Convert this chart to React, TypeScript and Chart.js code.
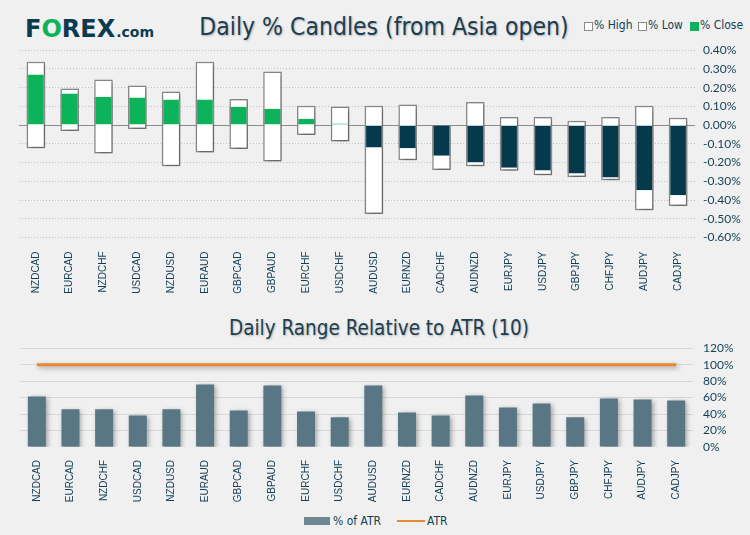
import React, { useEffect, useRef } from "react";
import { Chart, registerables } from "chart.js";
Chart.register(...registerables);

const pairs = ["NZDCAD", "EURCAD", "NZDCHF", "USDCAD", "NZDUSD", "EURAUD", "GBPCAD", "GBPAUD", "EURCHF", "USDCHF", "AUDUSD", "EURNZD", "CADCHF", "AUDNZD", "EURJPY", "USDJPY", "GBPJPY", "CHFJPY", "AUDJPY", "CADJPY"];
const highs = [0.338, 0.196, 0.244, 0.212, 0.18, 0.338, 0.14, 0.286, 0.103, 0.1, 0.103, 0.11, 0.0, 0.124, 0.044, 0.044, 0.023, 0.044, 0.103, 0.039];
const lows = [-0.124, -0.032, -0.151, -0.021, -0.22, -0.146, -0.128, -0.194, -0.053, -0.087, -0.475, -0.187, -0.24, -0.219, -0.244, -0.268, -0.277, -0.295, -0.455, -0.432];
const closes = [0.27, 0.169, 0.151, 0.148, 0.137, 0.137, 0.098, 0.087, 0.034, 0.009, -0.119, -0.124, -0.164, -0.199, -0.228, -0.242, -0.258, -0.279, -0.348, -0.375];
const pctOfAtr = [61.4, 45.7, 45.7, 38.4, 45.7, 76, 44.4, 74.7, 43.2, 36, 74.7, 42, 38.4, 62.6, 48.1, 52.9, 36, 59, 57.8, 56.6];
const atrLine = [100, 100, 100, 100, 100, 100, 100, 100, 100, 100, 100, 100, 100, 100, 100, 100, 100, 100, 100, 100];

const NAVY = "#123f55";
const GREEN = "#0db35a";
const DARK = "#053a4d";
const SLATE = "#587684";
const ORANGE = "#e8872b";
const BG = "#f0f0f0";

const shadowPlugin = (indices: number[]) => ({
  id: "shadowPlugin",
  beforeDatasetDraw(chart: any, args: any) {
    if (indices.includes(args.index)) {
      const c = chart.ctx;
      c.save();
      c.shadowColor = "rgba(0,0,0,0.35)";
      c.shadowBlur = 5;
      c.shadowOffsetX = 2;
      c.shadowOffsetY = 2;
    }
  },
  afterDatasetDraw(chart: any, args: any) {
    if (indices.includes(args.index)) chart.ctx.restore();
  },
});

const tickFont = { family: "Lato, 'Open Sans', sans-serif", size: 12 };
const catFont = { family: "'Liberation Sans', Arial, sans-serif", size: 10 };

function CandleChart() {
  const ref = useRef<HTMLCanvasElement>(null);
  useEffect(() => {
    const chart = new Chart(ref.current!, {
      type: "bar",
      data: {
        labels: pairs,
        datasets: [
          {
            label: "% Close",
            data: closes.map((c) => [0, c]) as any,
            backgroundColor: closes.map((c) => (c >= 0 ? GREEN : DARK)),
            borderColor: "#8a8a8a",
            borderWidth: { left: 1.5, right: 1.5, top: 0, bottom: 0 } as any,
            borderSkipped: false,
            grouped: false,
            barPercentage: 0.55,
            categoryPercentage: 1,
          } as any,
          {
            label: "% High / % Low",
            data: lows.map((l, i) => [l, highs[i]]) as any,
            backgroundColor: "#ffffff",
            borderColor: "#8a8a8a",
            borderWidth: 1.5,
            borderSkipped: false,
            grouped: false,
            barPercentage: 0.55,
            categoryPercentage: 1,
          } as any,
        ],
      },
      options: {
        animation: false,
        responsive: false,
        maintainAspectRatio: false,
        layout: { padding: { top: 5, left: 19, right: 0, bottom: 0 } },
        plugins: { legend: { display: false }, tooltip: { enabled: false } },
        scales: {
          x: {
            grid: { display: false },
            border: { display: false },
            ticks: { minRotation: 90, maxRotation: 90, autoSkip: false, color: NAVY, font: catFont, padding: 6 },
            afterFit(s: any) { s.height = 62.5; },
          },
          y: {
            position: "right",
            min: -0.6,
            max: 0.4,
            ticks: {
              stepSize: 0.1,
              autoSkip: false,
              padding: 8,
              color: NAVY,
              font: tickFont,
              callback: (v: any) => Number(v).toFixed(2) + "%",
            },
            grid: {
              drawTicks: false,
              lineWidth: 1,
              color: (ctx: any) => (ctx.tick && Math.abs(ctx.tick.value) < 1e-9 ? "#8c8c8c" : "#c2c2c2"),
            },
            border: {
              display: false,
              dash: (ctx: any) => (ctx.tick && Math.abs(ctx.tick.value) < 1e-9 ? [] : [1, 2]),
            } as any,
            afterFit(s: any) { s.width = 55; },
          },
        },
      } as any,
      plugins: [shadowPlugin([1])],
    });
    return () => chart.destroy();
  }, []);
  return <canvas ref={ref} width={750} height={265} style={{ position: "absolute", left: 0, top: 35 }} />;
}

function AtrChart() {
  const ref = useRef<HTMLCanvasElement>(null);
  useEffect(() => {
    const chart = new Chart(ref.current!, {
      type: "bar",
      data: {
        labels: pairs,
        datasets: [
          {
            type: "line",
            label: "ATR",
            data: atrLine,
            borderColor: ORANGE,
            borderWidth: 3,
            pointRadius: 0,
            fill: false,
          } as any,
          {
            label: "% of ATR",
            data: pctOfAtr,
            backgroundColor: SLATE,
            borderWidth: 0,
            barPercentage: 0.535,
            categoryPercentage: 1,
          } as any,
        ],
      },
      options: {
        animation: false,
        responsive: false,
        maintainAspectRatio: false,
        layout: { padding: { top: 3, left: 20, right: 0, bottom: 0 } },
        plugins: { legend: { display: false }, tooltip: { enabled: false } },
        scales: {
          x: {
            grid: { display: false },
            border: { display: false },
            ticks: { minRotation: 90, maxRotation: 90, autoSkip: false, color: NAVY, font: catFont, padding: 5 },
            afterFit(s: any) { s.height = 58; },
          },
          y: {
            position: "right",
            min: 0,
            max: 120,
            ticks: {
              stepSize: 20,
              autoSkip: false,
              padding: 10,
              color: NAVY,
              font: tickFont,
              callback: (v: any) => v + "%",
            },
            grid: {
              drawTicks: false,
              lineWidth: 1,
              color: (ctx: any) => (ctx.tick && ctx.tick.value === 0 ? "rgba(0,0,0,0)" : "#d8d8d8"),
            },
            border: { display: false },
            afterFit(s: any) { s.width = 57; },
          },
        },
      } as any,
      plugins: [shadowPlugin([0, 1])],
    });
    return () => chart.destroy();
  }, []);
  return <canvas ref={ref} width={750} height={174} style={{ position: "absolute", left: 0, top: 331 }} />;
}

const titleStyle: React.CSSProperties = {
  position: "absolute",
  fontFamily: "'DejaVu Sans Condensed', 'DejaVu Sans', sans-serif",
  fontStretch: "condensed",
  color: "#1c3e50",
  textShadow: "1px 1px 2px rgba(0,0,0,0.25)",
  whiteSpace: "nowrap",
};

const legendText: React.CSSProperties = {
  position: "absolute",
  fontFamily: "'DejaVu Sans Condensed', 'Open Sans', sans-serif",
  fontStretch: "condensed",
  fontSize: 12,
  color: NAVY,
  whiteSpace: "nowrap",
  lineHeight: "16px",
};

const sq = (bg: string, border: string, left: number): React.CSSProperties => ({
  position: "absolute",
  left,
  top: 22,
  width: 7,
  height: 7,
  border: "1px solid " + border,
  background: bg,
});

export default function App() {
  return (
    <div style={{ position: "absolute", left: 0, top: 0, width: 750, height: 535, background: BG, overflow: "hidden" }}>
      <div
        style={{
          position: "absolute",
          left: 25,
          top: 14,
          fontFamily: "'DejaVu Sans', sans-serif",
          fontWeight: 700,
          fontSize: 24,
          color: "#0b3b4f",
          whiteSpace: "nowrap",
          lineHeight: "30px",
        }}
      >
        F<span style={{ color: GREEN }}>O</span>REX
        <span style={{ fontSize: 14, marginLeft: 1 }}>.com</span>
      </div>
      <div style={{ ...titleStyle, fontSize: 24.5, lineHeight: "28px", left: 0, width: 768, textAlign: "center", top: 13 }}>Daily % Candles (from Asia open)</div>
      <span style={sq("#fff", "#8a8a8a", 584)} />
      <span style={{ ...legendText, left: 594, top: 17 }}>% High</span>
      <span style={sq("#fff", "#8a8a8a", 638)} />
      <span style={{ ...legendText, left: 648, top: 17 }}>% Low</span>
      <span style={sq(GREEN, GREEN, 690)} />
      <span style={{ ...legendText, left: 700, top: 17 }}>% Close</span>
      <CandleChart />
      <div style={{ ...titleStyle, fontSize: 20.5, lineHeight: "24px", left: 0, width: 758, textAlign: "center", top: 316 }}>Daily Range Relative to ATR (10)</div>
      <AtrChart />
      <span style={{ position: "absolute", left: 304, top: 517, width: 26, height: 8, background: "#6d8893" }} />
      <span style={{ ...legendText, left: 333, top: 513 }}>% of ATR</span>
      <span style={{ position: "absolute", left: 397, top: 520, width: 28, height: 2, background: ORANGE }} />
      <span style={{ ...legendText, left: 427, top: 513 }}>ATR</span>
    </div>
  );
}
